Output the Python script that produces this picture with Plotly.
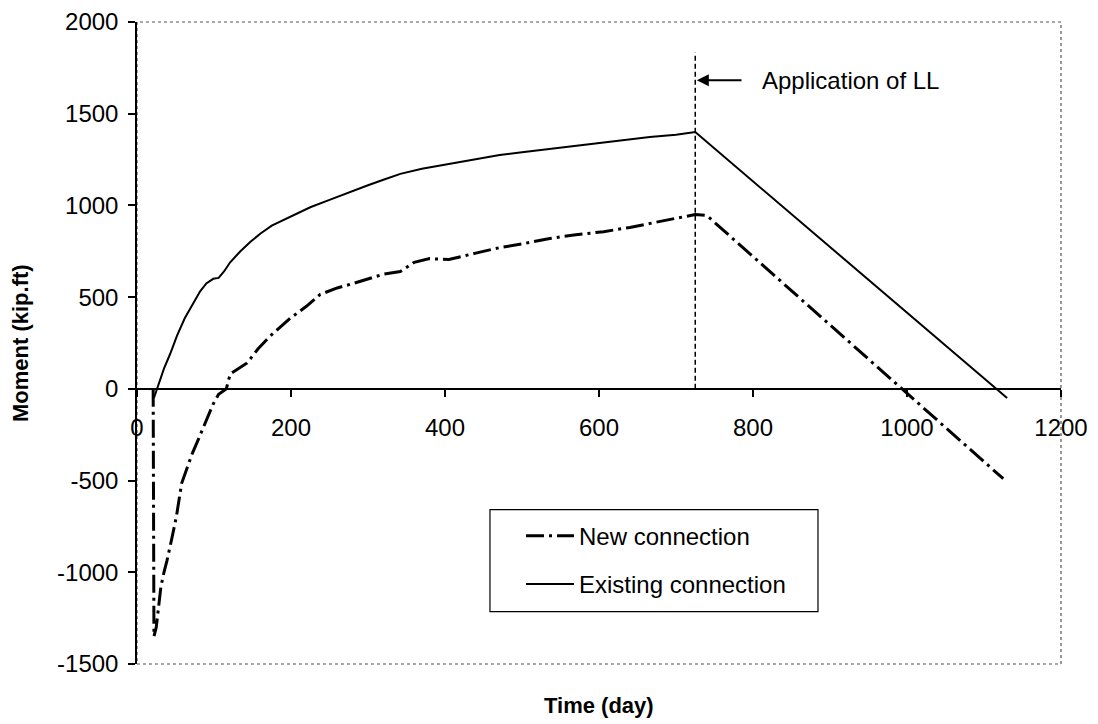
import plotly.graph_objects as go

# ---- data ----
existing_t = [22, 26, 30, 35, 43, 52, 62, 72, 82, 90, 99, 106, 113, 121, 134, 147, 160, 175, 200,
              225, 250, 277, 300, 320, 342, 370, 405, 440, 471, 500, 536, 570, 606, 640, 666, 700,
              725, 1130]
existing_m = [-50, 0, 60, 110, 190, 290, 385, 460, 532, 575, 600, 605, 640, 690, 749, 800, 846, 890,
              940, 990, 1030, 1075, 1110, 1140, 1172, 1200, 1226, 1250, 1275, 1290, 1308, 1325, 1345,
              1360, 1373, 1385, 1400, -50]

new_t = [21, 22, 25, 31, 35, 39, 45, 51, 58, 65, 72, 79, 90, 99, 106, 116, 121, 132, 143, 157, 173,
         199, 220, 238, 260, 277, 300, 320, 342, 360, 380, 405, 440, 471, 500, 536, 570, 606, 640,
         666, 700, 725, 740, 1125]
new_m = [0, -1350, -1300, -1080, -1000, -935, -820, -700, -515, -430, -350, -282, -170, -82, -30, 0,
         81, 110, 141, 217, 288, 385, 450, 515, 550, 570, 600, 625, 640, 690, 710, 705, 740, 770,
         790, 820, 840, 857, 880, 900, 930, 950, 945, -490]

ll_time = 725
ll_top = 1834
arrow_y = 1682
arrow_tail = 787
label_x = 809

x_ticks = [0, 200, 400, 600, 800, 1000, 1200]
y_ticks = [-1500, -1000, -500, 0, 500, 1000, 1500, 2000]

FONT = "Liberation Sans, Arial, sans-serif"

fig = go.Figure()
fig.add_trace(go.Scatter(x=new_t, y=new_m, mode="lines", name="New connection",
                         legendgroup="a",
                         line=dict(color="black", width=3, dash="18px,5px,3px,5px")))
fig.add_trace(go.Scatter(x=existing_t, y=existing_m, mode="lines", name="Existing connection",
                         legendgroup="b",
                         line=dict(color="black", width=2)))

# vertical line at live-load application
fig.add_trace(go.Scatter(x=[ll_time, ll_time], y=[0, ll_top], mode="lines", showlegend=False,
                         line=dict(color="black", width=1.5, dash="5px,3px"), hoverinfo="skip"))

# plot-area border (dotted)
fig.add_shape(type="rect", xref="paper", yref="paper", x0=0, y0=0, x1=1, y1=1,
              line=dict(color="#555", width=1.2, dash="dot"), layer="below")
# legend frame
fig.add_shape(type="rect", xref="paper", yref="paper", x0=0.382, y0=0.0815, x1=0.737, y1=0.2405,
              line=dict(color="black", width=1.2), fillcolor="white", layer="below")

fig.add_annotation(x=ll_time + 2, y=arrow_y, ax=arrow_tail, ay=arrow_y, xref="x", yref="y",
                   axref="x", ayref="y", text="", showarrow=True, arrowhead=2, arrowsize=1.2,
                   arrowwidth=2, arrowcolor="black")
fig.add_annotation(x=label_x, y=arrow_y, xref="x", yref="y", text="Application of LL",
                   showarrow=False, xanchor="left", yanchor="middle",
                   font=dict(family=FONT, size=24, color="black"))
fig.add_annotation(x=0.5, y=-0.064, xref="paper", yref="paper", text="<b>Time (day)</b>",
                   showarrow=False, xanchor="center", yanchor="middle",
                   font=dict(family=FONT, size=22, color="black"))
fig.add_annotation(x=-0.1266, y=0.5, xref="paper", yref="paper", text="<b>Moment (kip.ft)</b>",
                   showarrow=False, xanchor="center", yanchor="middle", textangle=-90,
                   font=dict(family=FONT, size=22, color="black"))

fig.update_layout(
    width=1098, height=724,
    margin=dict(l=129, r=45, t=14, b=68, autoexpand=False),
    paper_bgcolor="white", plot_bgcolor="white",
    font=dict(family=FONT, size=24, color="black"),
    showlegend=True,
    legend=dict(x=0.4156, y=0.2343, xanchor="left", yanchor="top",
                borderwidth=0, bgcolor="rgba(0,0,0,0)",
                font=dict(family=FONT, size=24, color="black"),
                tracegroupgap=14, itemwidth=48),
    xaxis=dict(range=[0, 1200], tickvals=x_ticks, ticktext=[str(v) for v in x_ticks],
               anchor="free", position=1500 / 3500, automargin=False,
               showline=True, linecolor="black", linewidth=1.5,
               ticks="outside", ticklen=7, tickcolor="black", tickwidth=1.5,
               ticklabelstandoff=11, ticklabeloverflow="allow",
               showgrid=False, zeroline=False,
               tickfont=dict(family=FONT, size=24, color="black")),
    yaxis=dict(range=[-1500, 2000], tickvals=y_ticks, ticktext=[str(v) for v in y_ticks],
               automargin=False,
               showline=True, linecolor="black", linewidth=1.5,
               ticks="outside", ticklen=7, tickcolor="black", tickwidth=1.5,
               ticklabelstandoff=5, ticklabeloverflow="allow",
               showgrid=False, zeroline=False,
               tickfont=dict(family=FONT, size=24, color="black")),
)

fig.write_html("out.html")
